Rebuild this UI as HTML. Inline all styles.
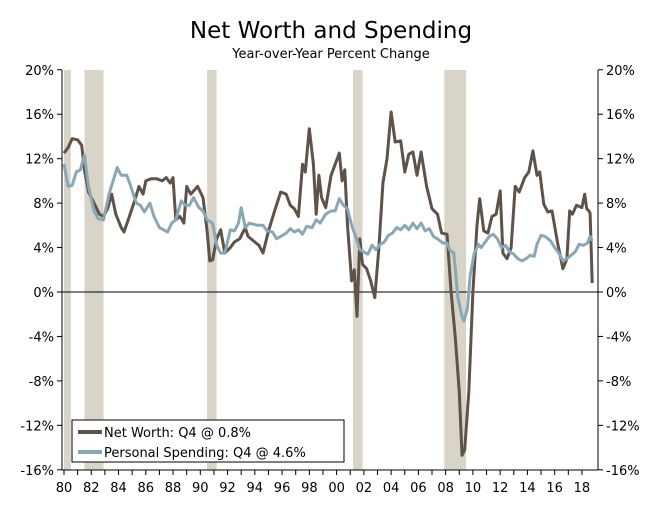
<!DOCTYPE html>
<html><head><meta charset="utf-8"><style>
body{margin:0;background:#fff;width:662px;height:505px;overflow:hidden;font-family:"DejaVu Sans","Liberation Sans",sans-serif}
</style></head><body>
<svg id="chart" width="662" height="505" xmlns="http://www.w3.org/2000/svg" font-family="DejaVu Sans, Liberation Sans, sans-serif">
<text x="331" y="38" text-anchor="middle" font-size="23">Net Worth and Spending</text>
<text x="331" y="58" text-anchor="middle" font-size="13">Year-over-Year Percent Change</text>
<g id="rec"></g><g id="axes"></g><g id="lines"></g>
<g>
<rect x="72" y="420" width="272" height="42" fill="#fff" stroke="#000" stroke-width="1"/>
<line x1="78" y1="432" x2="102" y2="432" stroke="#5e5249" stroke-width="4"/>
<text x="104" y="437" font-size="13">Net Worth: Q4 @ 0.8%</text>
<line x1="78" y1="452" x2="102" y2="452" stroke="#8ba6b5" stroke-width="4"/>
<text x="104" y="457" font-size="13">Personal Spending: Q4 @ 4.6%</text>
</g>
</svg>
<script>
const yTicks=[20,16,12,8,4,0,-4,-8,-12,-16];
const xLabels=["80","82","84","86","88","90","92","94","96","98","00","02","04","06","08","10","12","14","16","18"];
const recStart=[1980.0,1981.5,1990.5,2001.2,2007.9];
const recEnd=[1980.5,1982.9,1991.2,2001.9,2009.5];
const nwYears=[1980.0,1980.3,1980.6,1981.0,1981.3,1981.5,1981.8,1982.2,1982.6,1982.9,1983.2,1983.5,1983.8,1984.2,1984.4,1984.8,1985.2,1985.5,1985.8,1986.0,1986.4,1986.8,1987.2,1987.5,1987.8,1988.0,1988.2,1988.5,1988.8,1989.0,1989.3,1989.8,1990.2,1990.5,1990.7,1990.9,1991.2,1991.5,1991.8,1992.2,1992.5,1992.9,1993.3,1993.5,1994.0,1994.3,1994.6,1995.0,1995.5,1995.9,1996.3,1996.6,1996.9,1997.2,1997.5,1997.7,1998.0,1998.3,1998.5,1998.7,1998.9,1999.2,1999.6,1999.9,2000.2,2000.4,2000.6,2000.8,2001.1,2001.3,2001.5,2001.7,2001.9,2002.2,2002.5,2002.8,2003.1,2003.4,2003.7,2004.0,2004.3,2004.7,2005.0,2005.3,2005.6,2005.9,2006.2,2006.6,2007.0,2007.4,2007.7,2008.1,2008.4,2008.7,2009.0,2009.2,2009.4,2009.7,2010.0,2010.3,2010.5,2010.8,2011.1,2011.4,2011.7,2012.0,2012.2,2012.5,2012.8,2013.1,2013.4,2013.8,2014.1,2014.4,2014.7,2014.9,2015.2,2015.5,2015.8,2016.2,2016.6,2016.9,2017.1,2017.3,2017.6,2018.0,2018.2,2018.35,2018.5,2018.6,2018.75];
const nwValues=[12.5,13,13.8,13.7,13.2,11,9,8,7,6.8,7.5,8.8,7,5.8,5.4,6.8,8.3,9.5,8.8,10,10.2,10.2,10,10.3,9.8,10.3,6.5,6.8,6.2,9.5,8.8,9.5,8.5,5.5,2.8,2.9,4.8,5.6,3.5,4.0,4.5,4.8,5.8,5.0,4.5,4.2,3.5,5.5,7.5,9,8.8,7.8,7.5,6.8,11.5,10.8,14.7,11.5,7.0,10.5,8.5,7.6,10.5,11.5,12.5,10,11,6,1,2,-2.2,4.8,2.5,2.1,1,-0.5,4,9.8,12,16.2,13.5,13.6,10.8,12.4,12.6,10.5,12.6,9.5,7.5,7,5.3,5.2,0,-4,-9,-14.7,-14.2,-9,0,6,8.4,5.5,5.3,6.8,7,9.1,3.5,3,4,9.5,9.0,10.3,10.8,12.7,10.5,10.8,7.9,7.2,7.3,4.5,2.1,3,7.3,7.0,7.8,7.6,8.8,7.5,7.3,7.1,0.8];
const spYears=[1980.0,1980.3,1980.6,1980.9,1981.2,1981.5,1981.8,1982.2,1982.5,1982.9,1983.3,1983.6,1983.9,1984.2,1984.6,1984.9,1985.3,1985.6,1985.9,1986.3,1986.6,1987.0,1987.3,1987.6,1987.9,1988.2,1988.6,1988.9,1989.2,1989.5,1989.9,1990.2,1990.5,1990.9,1991.2,1991.5,1991.8,1992.2,1992.5,1992.8,1993.0,1993.3,1993.6,1994.2,1994.6,1994.9,1995.3,1995.6,1995.9,1996.3,1996.6,1996.9,1997.2,1997.5,1997.8,1998.2,1998.5,1998.8,1999.2,1999.6,1999.9,2000.2,2000.5,2000.8,2001.1,2001.4,2001.7,2002.0,2002.3,2002.6,2002.9,2003.2,2003.5,2003.8,2004.1,2004.4,2004.7,2005.0,2005.3,2005.6,2005.9,2006.2,2006.5,2006.8,2007.1,2007.5,2007.8,2008.1,2008.3,2008.6,2008.9,2009.2,2009.35,2009.6,2009.8,2010.1,2010.4,2010.6,2010.9,2011.2,2011.5,2011.8,2012.1,2012.4,2012.7,2013.0,2013.3,2013.6,2013.9,2014.2,2014.5,2014.7,2015.0,2015.3,2015.7,2016.0,2016.3,2016.6,2016.9,2017.2,2017.5,2017.8,2018.1,2018.4,2018.6,2018.75];
const spValues=[11.5,9.5,9.6,10.8,11,12.3,9.5,7.3,6.6,6.5,8.8,10,11.2,10.5,10.5,9.5,8,7.8,7.2,8,6.8,5.8,5.6,5.4,6.2,6.5,8.2,7.8,7.8,8.5,7.6,7.3,6.5,6.2,4.2,3.5,3.5,5.6,5.5,6.2,7.6,5.8,6.2,6.0,6.0,5.5,5.4,4.8,5.0,5.3,5.7,5.4,5.6,5.2,5.9,5.8,6.5,6.2,7,7.3,7.3,8.4,7.8,7.5,6.0,5.0,3.8,3.6,3.4,4.2,3.8,4.3,4.5,5.1,5.3,5.8,5.6,6.0,5.6,6.2,5.7,6.2,5.5,5.7,5.0,4.7,4.4,4.4,3.8,3.5,-0.5,-2.2,-2.6,-1.5,1.5,3.5,4.3,4.0,4.5,5.0,5.2,4.8,4.0,4.2,3.6,3.4,3.0,2.8,3.0,3.3,3.2,4.3,5.1,5.0,4.6,4.0,3.5,2.8,3.0,3.3,3.6,4.3,4.2,4.4,5.0,4.6];

const L=62,R=598,T=70,B=470;
const xS=yr=>64+(yr-1980)*13.63;
const yS=v=>292-v*(B-T)/36;
const NS="http://www.w3.org/2000/svg";
function mk(parent,tag,at){const e=document.createElementNS(NS,tag);for(const k in at)e.setAttribute(k,at[k]);document.getElementById(parent).appendChild(e);return e;}

recStart.forEach((s,i)=>{
  const r=mk("rec","rect",{x:xS(s),y:T,width:xS(recEnd[i])-xS(s),height:B-T,fill:"#d8d4c8"});
  
  
});
let a;
a=mk("axes","line",{x1:L,y1:T,x2:L,y2:B,stroke:"#000"});


a=mk("axes","line",{x1:R,y1:T,x2:R,y2:B,stroke:"#000"});


a=mk("axes","line",{x1:L,y1:B,x2:R,y2:B,stroke:"#000"});


a=mk("axes","line",{x1:L,y1:yS(0),x2:R,y2:yS(0),stroke:"#000"});


yTicks.forEach(v=>{
  const y=yS(v);
  mk("axes","line",{x1:L-5,y1:y,x2:L,y2:y,stroke:"#000"});
  mk("axes","line",{x1:R,y1:y,x2:R+5,y2:y,stroke:"#000"});
  const t1=mk("axes","text",{x:L-8,y:y+5,"text-anchor":"end","font-size":"13"});
  t1.textContent=v+"%";
  
  
  const t2=mk("axes","text",{x:R+8,y:y+5,"font-size":"13"});
  t2.textContent=v+"%";
  
  
});
for(let yr=1980;yr<=2018;yr++){
  const x=xS(yr);
  mk("axes","line",{x1:x,y1:B,x2:x,y2:B+5,stroke:"#000"});
}
xLabels.forEach((lb,i)=>{
  const t=mk("axes","text",{x:xS(1980+2*i),y:B+22,"text-anchor":"middle","font-size":"13"});
  t.textContent=lb;
  
  
});
function line(xs,vs,color,name){
  const d=xs.map((yr,i)=>(i?"L":"M")+xS(yr).toFixed(1)+","+yS(vs[i]).toFixed(1)).join("");
  const p=mk("lines","path",{d:d,fill:"none",stroke:color,"stroke-width":"3","stroke-linejoin":"round"});
  
  
}
line(nwYears,nwValues,"#5e5249","net-worth-line");
line(spYears,spValues,"#8ba6b5","personal-spending-line");
</script>
</body></html>
